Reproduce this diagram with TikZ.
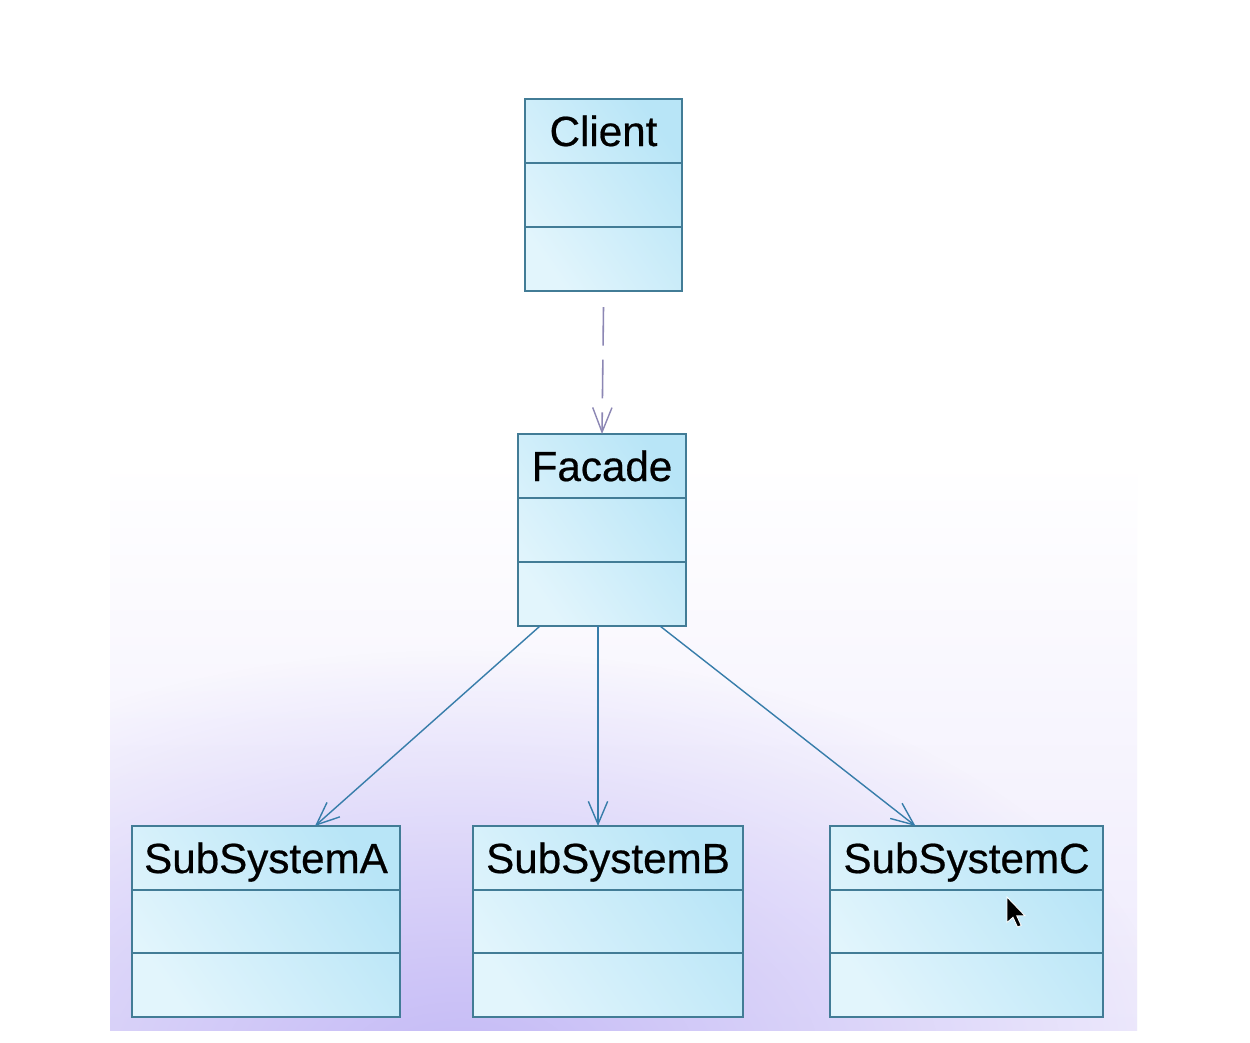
\documentclass[tikz,border=0pt]{standalone}
\usepackage{fontspec}
\setmainfont{Liberation Sans}
\newfontfamily\classfont{Liberation Sans}[FakeBold=0.5]
\usetikzlibrary{arrows.meta,calc,fit,fadings}

\definecolor{boxline}{RGB}{66,124,150}
\definecolor{boxlight}{RGB}{226,245,252}
\definecolor{boxdark}{RGB}{184,229,247}
\definecolor{assoc}{RGB}{55,125,170}
\definecolor{depend}{RGB}{140,135,180}
\definecolor{panel}{RGB}{238,234,252}
\definecolor{haze}{RGB}{196,186,246}

\tikzfading[name=softglow, inner color=transparent!0, outer color=transparent!100]

\tikzset{
  classbox/.style={rectangle, draw=boxline, line width=1pt, inner sep=0pt,
    outer sep=0pt, left color=boxlight, right color=boxdark, shading angle=125},
  divider/.style={draw=boxline, line width=1pt},
  classname/.style={anchor=base, inner sep=0pt, text=black,
    font=\classfont\fontsize{24}{28}\selectfont},
  assocline/.style={draw=assoc, line width=0.8pt,
    -{Straight Barb[length=13pt,width=11pt,line width=0.8pt]}},
  dependline/.style={draw=depend, line width=0.9pt, dash pattern=on 22pt off 8pt,
    -{Straight Barb[length=14pt,width=11pt,line width=0.8pt]}},
}

% one UML class: name, left, top, right, bottom, title
\newcommand\umlclass[6]{%
  \node[classbox, fit={(#2,#3) (#4,#5)}] (#1) {};
  \draw[divider] ($(#1.north west)!1/3!(#1.south west)$) -- ($(#1.north east)!1/3!(#1.south east)$);
  \draw[divider] ($(#1.north west)!2/3!(#1.south west)$) -- ($(#1.north east)!2/3!(#1.south east)$);
  \node[classname] (#1-name) at ($(#1.north)+(0,47)$) {#6};
}

\begin{document}
\begin{tikzpicture}[x=0.02cm,y=-0.02cm]
\useasboundingbox (0,0) rectangle (1250,1042);
\fill[white] (0,0) rectangle (1250,1042);

% hazy lavender backdrop behind the subsystems
\shade[top color=white, bottom color=panel] (110,460) rectangle (1137,1030);
\begin{scope}
  \clip (110,460) rectangle (1137,1030);
  \fill[haze, path fading=softglow, fit fading=true] (460,1070) ellipse [x radius=720, y radius=420];
\end{scope}

\umlclass{client}{525}{99}{682}{291}{Client}
\umlclass{facade}{518}{434}{686}{626}{Facade}
\umlclass{subA}{132}{826}{400}{1017}{SubSystemA}
\umlclass{subB}{473}{826}{743}{1017}{SubSystemB}
\umlclass{subC}{830}{826}{1103}{1017}{SubSystemC}

% dependency: client uses the facade
\coordinate (dep-start) at ($(client.south)+(0,16)$);
\draw[dependline] (dep-start) -- (facade.north);

% associations: facade to each subsystem
\draw[assocline] ($(facade.south west)+(22,0)$) -- ($(subA.north)+(49,0)$);
\draw[assocline] ($(facade.south)+(-4,0)$) -- ($(subB.north)+(-10,0)$);
\draw[assocline] ($(facade.south east)+(-26,0)$) -- ($(subC.north)+(-51,0)$);

% mouse pointer
\begin{scope}[shift={(1007,897)}, scale=1.5]
  \fill[black, draw=white, line width=0.5pt]
    (0,0) -- (0,17) -- (4,13.5) -- (7,20) -- (9.5,19) -- (6.5,12.5) -- (12,12.5) -- cycle;
\end{scope}
\end{tikzpicture}
\end{document}
